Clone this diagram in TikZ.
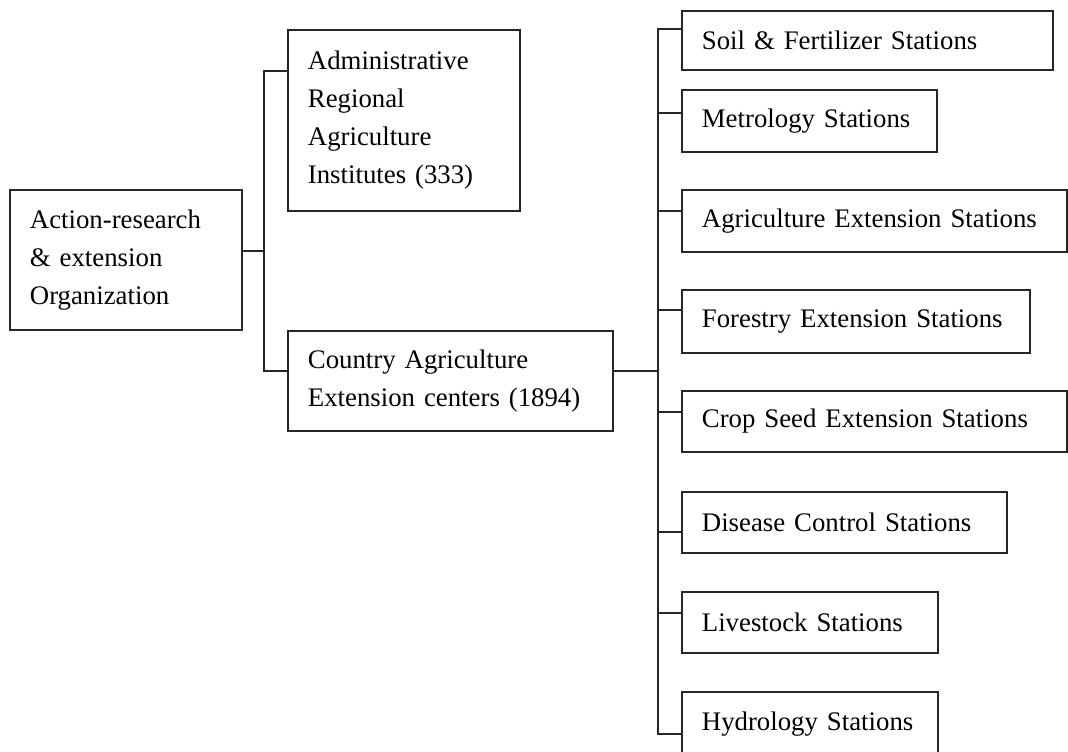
\documentclass[tikz,border=0pt]{standalone}
\usepackage{fontspec}
\setmainfont{Liberation Serif}
\begin{document}
\begin{tikzpicture}[x=1pt,y=-1pt,
  box/.style={draw=black!85, line width=1.8pt, anchor=north west, inner xsep=20pt, inner ysep=0pt,
    align=left, text=black, font=\fontsize{26.8}{38}\selectfont},
  link/.style={draw=black!85, line width=1.8pt}]
\useasboundingbox (0,0) rectangle (1068,752);
% level 0
\node[box, text width=192pt, minimum height=140pt] (root) at (9,189) {Action-research\\ \& extension\\ Organization};
% level 1
\node[box, text width=192pt, minimum height=181pt] (admin) at (287,29) {Administrative\\ Regional\\ Agriculture\\ Institutes (333)};
\node[box, text width=285pt, minimum height=100pt] (country) at (287,330) {Country Agriculture\\ Extension centers (1894)};
% level 2
\node[box, text width=331pt, minimum height=59pt] (soil) at (681,10) {Soil \& Fertilizer Stations};
\node[box, text width=215pt, minimum height=62pt] (metro) at (681,89) {Metrology Stations};
\node[box, text width=345pt, minimum height=62pt] (agri) at (681,189) {Agriculture Extension Stations};
\node[box, text width=308pt, minimum height=63pt] (forest) at (681,289) {Forestry Extension Stations};
\node[box, text width=345pt, minimum height=61pt] (crop) at (681,390) {Crop Seed Extension Stations};
\node[box, text width=285pt, minimum height=61pt] (disease) at (681,491) {Disease Control Stations};
\node[box, text width=216pt, minimum height=61pt] (live) at (681,591) {Livestock Stations};
\node[box, text width=216pt, minimum height=64pt] (hydro) at (681,691) {Hydrology Stations};
% bus positions
\coordinate (lbus) at (264,0);
\coordinate (rbus) at (658,0);
% connector points
\coordinate (r0) at ([yshift=9pt]root.east);
\coordinate (a0) at ([yshift=49.5pt]admin.west);
\coordinate (c0) at ([yshift=10pt]country.west);
\coordinate (c1) at ([yshift=10pt]country.east);
\coordinate (s1) at ([yshift=11.5pt]soil.west);
\coordinate (s2) at ([yshift=8pt]metro.west);
\coordinate (s3) at ([yshift=10pt]agri.west);
\coordinate (s4) at ([yshift=11.5pt]forest.west);
\coordinate (s5) at ([yshift=9.5pt]crop.west);
\coordinate (s6) at ([yshift=-9.5pt]disease.west);
\coordinate (s7) at ([yshift=9.5pt]live.west);
\coordinate (s8) at ([yshift=-10pt]hydro.west);
% left tree
\draw[link] (r0) -- (r0 -| lbus);
\draw[link] (a0) -- (a0 -| lbus) -- (c0 -| lbus) -- (c0);
% right tree
\draw[link] (c1) -- (c1 -| rbus);
\draw[link] (s1) -- (s1 -| rbus) -- (s8 -| rbus) -- (s8);
\foreach \s in {s2,s3,s4,s5,s6,s7} {\draw[link] (\s -| rbus) -- (\s);}
\end{tikzpicture}
\end{document}
